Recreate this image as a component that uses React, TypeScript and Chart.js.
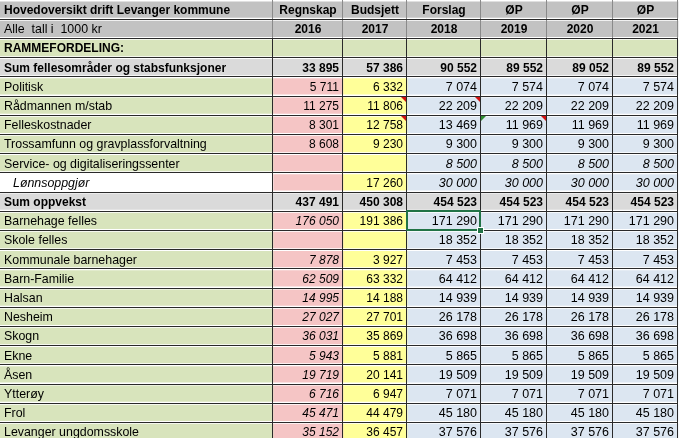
import React, { useEffect, useRef } from 'react';
import { Chart, registerables } from 'chart.js';

Chart.register(...registerables);

// ---------- data ----------
const headerTop = ['Hovedoversikt drift Levanger kommune', 'Regnskap', 'Budsjett', 'Forslag', 'ØP', 'ØP', 'ØP'];
const headerBottom = ['Alle  tall i  1000 kr', '2016', '2017', '2018', '2019', '2020', '2021'];

const rowLabels = [
  'RAMMEFORDELING:',
  'Sum fellesområder og stabsfunksjoner',
  'Politisk',
  'Rådmannen m/stab',
  'Felleskostnader',
  'Trossamfunn og gravplassforvaltning',
  'Service- og digitaliseringssenter',
  'Lønnsoppgjør',
  'Sum oppvekst',
  'Barnehage felles',
  'Skole felles',
  'Kommunale barnehager',
  'Barn-Familie',
  'Halsan',
  'Nesheim',
  'Skogn',
  'Ekne',
  'Åsen',
  'Ytterøy',
  'Frol',
  'Levanger ungdomsskole',
];

const regnskap2016 = [null, 33895, 5711, 11275, 8301, 8608, null, null, 437491, 176050, null, 7878, 62509, 14995, 27027, 36031, 5943, 19719, 6716, 45471, 35152];
const budsjett2017 = [null, 57386, 6332, 11806, 12758, 9230, null, 17260, 450308, 191386, null, 3927, 63332, 14188, 27701, 35869, 5881, 20141, 6947, 44479, 36457];
const forslag2018 = [null, 90552, 7074, 22209, 13469, 9300, 8500, 30000, 454523, 171290, 18352, 7453, 64412, 14939, 26178, 36698, 5865, 19509, 7071, 45180, 37576];
const op2019 = [null, 89552, 7574, 22209, 11969, 9300, 8500, 30000, 454523, 171290, 18352, 7453, 64412, 14939, 26178, 36698, 5865, 19509, 7071, 45180, 37576];
const op2020 = [null, 89052, 7074, 22209, 11969, 9300, 8500, 30000, 454523, 171290, 18352, 7453, 64412, 14939, 26178, 36698, 5865, 19509, 7071, 45180, 37576];
const op2021 = [null, 89552, 7574, 22209, 11969, 9300, 8500, 30000, 454523, 171290, 18352, 7453, 64412, 14939, 26178, 36698, 5865, 19509, 7071, 45180, 37576];

const valueColumns = [regnskap2016, budsjett2017, forslag2018, op2019, op2020, op2021];

// ---------- layout & style (kept apart from data) ----------
const COL_EDGES = [0, 273, 343, 407, 481, 547, 613, 678];
const CANVAS_W = 682;
const CANVAS_H = 438;
const ROW_PX = 19.2;
const HEADER_ROWS = 2;
// row kinds: section / sum / item / plain (white label)
const rowKinds = ['section', 'sum', 'item', 'item', 'item', 'item', 'item', 'plain', 'sum', 'item', 'item', 'item', 'item', 'item', 'item', 'item', 'item', 'item', 'item', 'item', 'item'];
const ITALIC_REGNSKAP_ROWS = [9, 11, 12, 13, 14, 15, 16, 17, 18, 19, 20];
const ITALIC_PLAN_ROWS = [6, 7];
const COMMENT_RED = [[2, 3], [2, 4], [3, 3], [4, 4]]; // [col, dataRow] top-right red markers
const COMMENT_GREEN = [[4, 4]]; // top-left green marker
const SELECTED = [3, 9];

const C_HEADER = '#c2c2c2';
const C_GREEN = '#d8e4bc';
const C_SUM = '#dadada';
const C_PINK = '#f5c5c5';
const C_YELLOW = '#ffff99';
const C_BLUE = '#dce6f1';
const FONT = "'Liberation Sans', Arial, sans-serif";

function cellColor(row: number, col: number): string {
  if (row < HEADER_ROWS) return C_HEADER;
  const kind = rowKinds[row - HEADER_ROWS];
  if (kind === 'section') return C_GREEN;
  if (kind === 'sum') return C_SUM;
  if (col === 0) return kind === 'plain' ? '#ffffff' : C_GREEN;
  if (col === 1) return C_PINK;
  if (col === 2) return C_YELLOW;
  return C_BLUE;
}

const fmt = (n: number) => n.toString().replace(/\B(?=(\d{3})+(?!\d))/g, ' ');

const tablePlugin = {
  id: 'tablePlugin',
  afterDatasetsDraw(chart: any) {
    const ctx = chart.ctx as CanvasRenderingContext2D;
    const xs = chart.scales.x;
    const ys = chart.scales.y;
    const px = (v: number) => xs.getPixelForValue(v);
    const py = (v: number) => ys.getPixelForValue(v);
    const totalRows = HEADER_ROWS + rowLabels.length;
    const right = px(COL_EDGES[COL_EDGES.length - 1]);
    ctx.save();

    // vertical lines
    for (let i = 1; i < COL_EDGES.length; i++) {
      const x = Math.round(px(COL_EDGES[i])) - 0.5;
      ctx.strokeStyle = '#8a8a8a';
      ctx.lineWidth = 1;
      ctx.beginPath();
      ctx.moveTo(x, py(0));
      ctx.lineTo(x, py(HEADER_ROWS));
      ctx.stroke();
      ctx.strokeStyle = '#2a2a2a';
      ctx.beginPath();
      ctx.moveTo(x, py(HEADER_ROWS));
      ctx.lineTo(x, py(totalRows));
      ctx.stroke();
    }
    // horizontal lines
    ctx.strokeStyle = '#2a2a2a';
    for (let r = 1; r <= totalRows; r++) {
      const y = Math.floor(py(r)) + 0.5;
      ctx.beginPath();
      ctx.moveTo(px(0), y);
      ctx.lineTo(right, y);
      ctx.stroke();
    }

    // texts
    ctx.fillStyle = '#000';
    ctx.textBaseline = 'middle';
    const midY = (r: number) => py(r + 0.5) + 1;
    const headers = [headerTop, headerBottom];
    headers.forEach((hdr, r) => {
      hdr.forEach((t, c) => {
        const bold = !(r === 1 && c === 0);
        ctx.font = `${bold ? 'bold ' : ''}${bold ? 12 : 12.4}px ${FONT}`;
        if (c === 0) {
          ctx.textAlign = 'left';
          ctx.fillText(t, px(COL_EDGES[0]) + 4, midY(r));
        } else {
          ctx.textAlign = 'center';
          ctx.fillText(t, (px(COL_EDGES[c]) + px(COL_EDGES[c + 1])) / 2, midY(r));
        }
      });
    });

    rowLabels.forEach((label, i) => {
      const r = i + HEADER_ROWS;
      const kind = rowKinds[i];
      const bold = kind === 'section' || kind === 'sum';
      const italic = kind === 'plain';
      ctx.textAlign = 'left';
      ctx.font = `${italic ? 'italic ' : ''}${bold ? 'bold ' : ''}${bold ? 12 : 12.4}px ${FONT}`;
      ctx.fillText(label, px(COL_EDGES[0]) + (italic ? 13 : 4), midY(r));
      valueColumns.forEach((col, c) => {
        const v = col[i];
        if (v === null || v === undefined) return;
        const it = (c === 0 && ITALIC_REGNSKAP_ROWS.includes(i)) || (c >= 2 && ITALIC_PLAN_ROWS.includes(i));
        const size = bold ? 12 : c >= 2 ? 12.5 : 12;
        ctx.font = `${it ? 'italic ' : ''}${bold ? 'bold ' : ''}${size}px ${FONT}`;
        ctx.textAlign = 'right';
        ctx.fillText(fmt(v), px(COL_EDGES[c + 2]) - 4, midY(r));
      });
    });

    // comment markers
    COMMENT_RED.forEach(([c, i]) => {
      const x1 = Math.round(px(COL_EDGES[c + 1])) - 1;
      const y0 = Math.floor(py(i + HEADER_ROWS)) + 1;
      ctx.fillStyle = '#d01010';
      ctx.beginPath();
      ctx.moveTo(x1 - 5, y0);
      ctx.lineTo(x1, y0);
      ctx.lineTo(x1, y0 + 5);
      ctx.closePath();
      ctx.fill();
    });
    COMMENT_GREEN.forEach(([c, i]) => {
      const x0 = Math.round(px(COL_EDGES[c]));
      const y0 = Math.floor(py(i + HEADER_ROWS)) + 1;
      ctx.fillStyle = '#2e8b2e';
      ctx.beginPath();
      ctx.moveTo(x0, y0);
      ctx.lineTo(x0 + 5, y0);
      ctx.lineTo(x0, y0 + 5);
      ctx.closePath();
      ctx.fill();
    });

    // selection box
    const [sc, si] = SELECTED;
    const sx0 = Math.round(px(COL_EDGES[sc]));
    const sx1 = Math.round(px(COL_EDGES[sc + 1]));
    const sy0 = Math.floor(py(si + HEADER_ROWS));
    const sy1 = Math.floor(py(si + HEADER_ROWS + 1));
    ctx.strokeStyle = '#217346';
    ctx.lineWidth = 2;
    ctx.strokeRect(sx0, sy0, sx1 - sx0 - 1, sy1 - sy0);
    ctx.fillStyle = '#ffffff';
    ctx.fillRect(sx1 - 4, sy1 - 3, 7, 7);
    ctx.fillStyle = '#217346';
    ctx.fillRect(sx1 - 3, sy1 - 2, 5, 5);

    ctx.restore();
  },
};

export default function App() {
  const ref = useRef<HTMLCanvasElement | null>(null);

  useEffect(() => {
    document.body.style.margin = '0';
    const canvas = ref.current;
    if (!canvas) return;
    const totalRows = HEADER_ROWS + rowLabels.length;
    const datasets = COL_EDGES.slice(0, -1).map((edge, c) => {
      const data: any[] = [];
      const colors: string[] = [];
      for (let r = 0; r < totalRows; r++) {
        data.push({ x: [edge, COL_EDGES[c + 1]], y: r + 0.5 });
        colors.push(cellColor(r, c));
      }
      return {
        label: c === 0 ? 'Tekst' : headerTop[c] + ' ' + headerBottom[c],
        data,
        backgroundColor: colors,
        borderWidth: 0,
        grouped: false,
        barPercentage: 1,
        categoryPercentage: 1,
      };
    });

    const chart = new Chart(canvas, {
      type: 'bar',
      data: { datasets } as any,
      options: {
        indexAxis: 'y',
        responsive: false,
        maintainAspectRatio: false,
        animation: false,
        devicePixelRatio: 1,
        events: [],
        layout: { padding: 0 },
        plugins: { legend: { display: false }, tooltip: { enabled: false } },
        scales: {
          x: { type: 'linear', min: 0, max: CANVAS_W, display: false, offset: false },
          y: {
            type: 'linear',
            min: 0,
            max: CANVAS_H / ROW_PX,
            reverse: true,
            display: false,
            offset: false,
            grid: { offset: false },
            ticks: { stepSize: 1 },
          },
        },
      } as any,
      plugins: [tablePlugin],
    });
    return () => chart.destroy();
  }, []);

  return (
    <div style={{ position: 'absolute', left: 0, top: 0, width: CANVAS_W, height: CANVAS_H, background: '#fff' }}>
      <canvas ref={ref} width={CANVAS_W} height={CANVAS_H} style={{ display: 'block' }} />
    </div>
  );
}
